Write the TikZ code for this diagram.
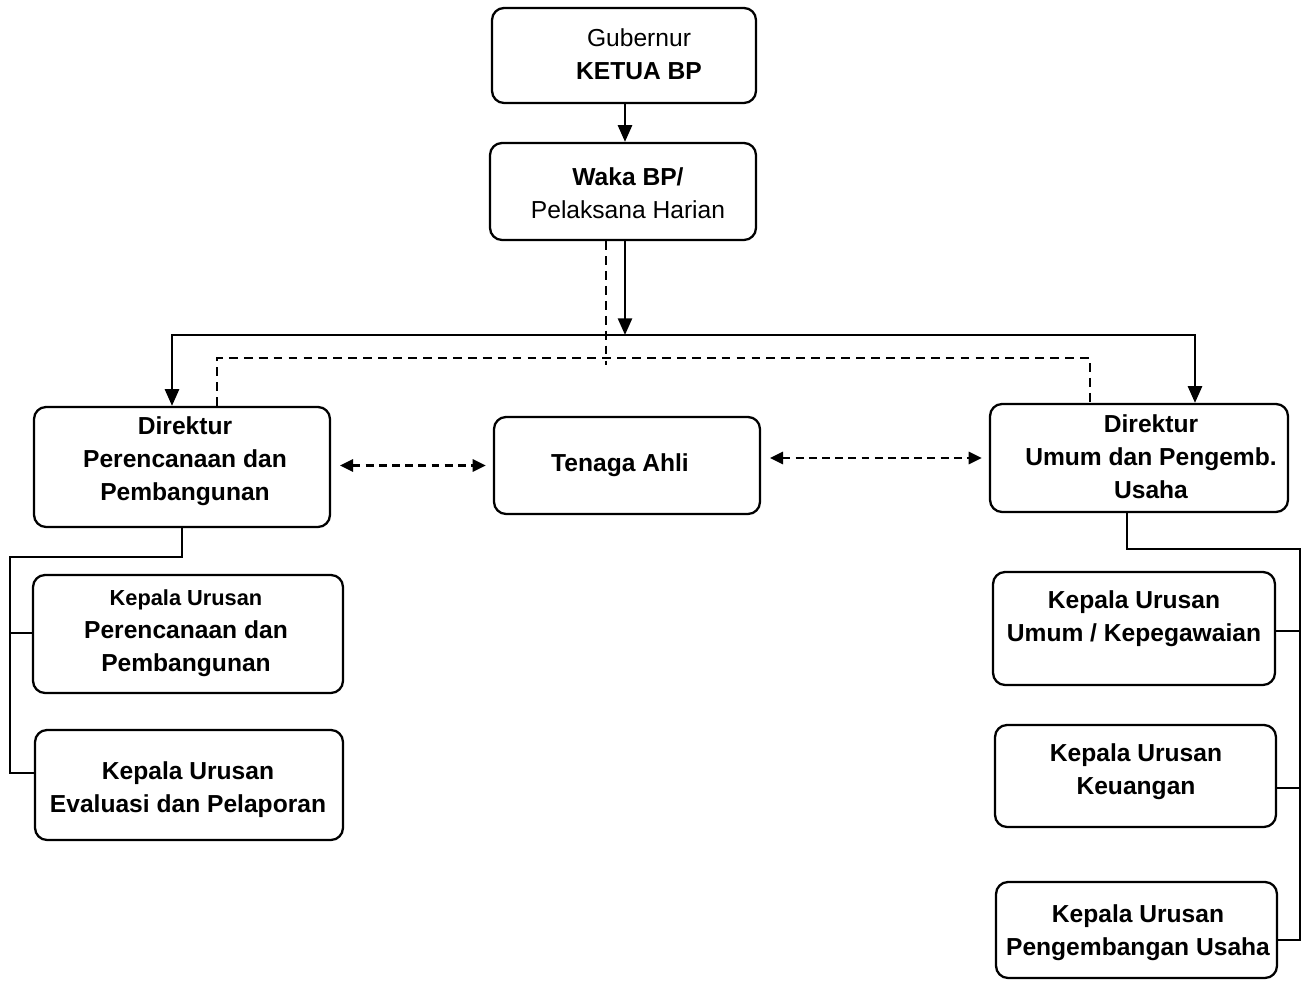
\documentclass[tikz,border=0pt]{standalone}
\usepackage{fontspec}
\setmainfont{Liberation Sans}
\usetikzlibrary{arrows.meta}
\begin{document}
\begin{tikzpicture}[x=0.02cm,y=-0.02cm,
  box/.style={draw, line width=1.3pt, rounded corners=0.24cm, inner sep=0pt},
  txt/.style={align=center, inner sep=0pt, font=\fontsize{14}{18.7}\selectfont\bfseries},
  line/.style={line width=1.3pt},
  arr/.style={line width=1.4pt, -{Triangle[length=9.5pt,width=8pt]}},
  dline/.style={line width=1.4pt, dash pattern=on 5pt off 3.5pt},
  darr/.style={line width=1.3pt, dash pattern=on 4.5pt off 3pt, {Triangle[length=7.5pt,width=7pt]}-{Triangle[length=7.5pt,width=7pt]}, shorten <=5pt, shorten >=4pt}]
\useasboundingbox (0,0) rectangle (1303,982);

% boxes
\node[box, minimum width=5.28cm, minimum height=1.9cm] (gub) at (624,55.5) {};
\node[box, minimum width=5.32cm, minimum height=1.94cm] (waka) at (623,191.5) {};
\node[box, minimum width=5.92cm, minimum height=2.4cm] (dirL) at (182,467) {};
\node[box, minimum width=5.32cm, minimum height=1.94cm] (ten) at (627,465.5) {};
\node[box, minimum width=5.96cm, minimum height=2.16cm] (dirR) at (1139,458) {};
\node[box, minimum width=6.2cm, minimum height=2.36cm] (kL1) at (188,634) {};
\node[box, minimum width=6.16cm, minimum height=2.2cm] (kL2) at (189,785) {};
\node[box, minimum width=5.64cm, minimum height=2.26cm] (kR1) at (1134,628.5) {};
\node[box, minimum width=5.62cm, minimum height=2.04cm] (kR2) at (1135.5,776) {};
\node[box, minimum width=5.62cm, minimum height=1.92cm] (kR3) at (1136.5,930) {};

% texts
\node[txt] (gubT) at (639,54) {\mdseries Gubernur\\KETUA BP};
\node[txt] (wakaT) at (628,193.5) {Waka BP/\\\mdseries Pelaksana Harian};
\node[txt] (dirLT) at (185,461) {Direktur\\Perencanaan dan\\Pembangunan};
\node[txt] (tenT) at (620,465) {Tenaga Ahli};
\node[txt] (dirRT) at (1151,457) {Direktur\\Umum dan Pengemb.\\Usaha};
\node[txt] (kL1T) at (186,633) {{\fontsize{12.4}{16}\selectfont Kepala Urusan}\\Perencanaan dan\\Pembangunan};
\node[txt] (kL2T) at (188,789.5) {Kepala Urusan\\Evaluasi dan Pelaporan};
\node[txt] (kR1T) at (1134,618.5) {Kepala Urusan\\Umum / Kepegawaian};
\node[txt] (kR2T) at (1136,771.5) {Kepala Urusan\\Keuangan};
\node[txt] (kR3T) at (1138,932.5) {Kepala Urusan\\Pengembangan Usaha};

% coordinates
\coordinate (busM) at (625,335);
\coordinate (busL) at (172,335);
\coordinate (busR) at (1195,335);
\coordinate (dM) at (606,358);
\coordinate (dL) at (217,358);
\coordinate (dR) at (1090,358);
\coordinate (tL) at (10,557);
\coordinate (tR) at (1300,549);

% solid hierarchy
\draw[arr] (gub.south -| busM) -- (busM |- waka.north);
\draw[arr] (waka.south -| busM) -- (busM);
\draw[arr] (busM) -| (busL |- dirL.north);
\draw[arr] (busM) -| (busR |- dirR.north);

% dashed lines
\draw[dline] (waka.south -| dM) -- ([yshift=-4]dM);
\draw[dline] (dL |- dirL.north) -- (dL) -- (dR) -- (dR |- dirR.north);

% dashed double arrows
\draw[darr] (dirL.east |- ten.west) -- (ten.west);
\draw[darr] (ten.east |- dirR.west) -- (dirR.west);

% left tree
\draw[line] (dirL.south) |- (tL) -- (10,773) -- (kL2.west |- 0,773);
\draw[line] (10,633) -- (kL1.west |- 0,633);

% right tree
\draw[line] (dirR.south -| 1127,0) |- (tR) -- (1300,940) -- (kR3.east |- 0,940);
\draw[line] (1300,631) -- (kR1.east |- 0,631);
\draw[line] (1300,788) -- (kR2.east |- 0,788);
\end{tikzpicture}
\end{document}
